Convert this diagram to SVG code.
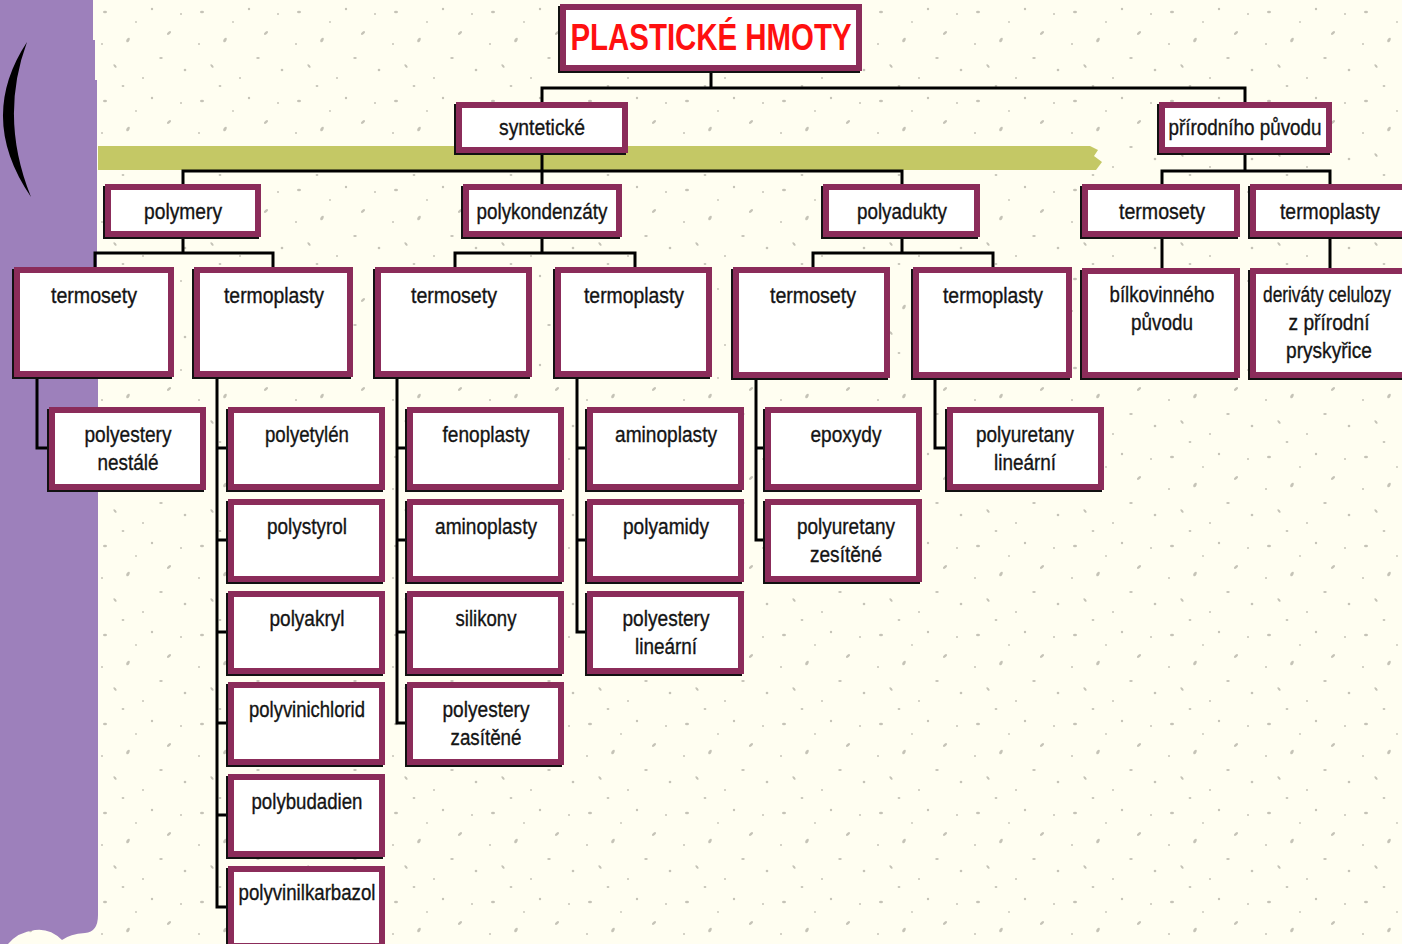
<svg xmlns="http://www.w3.org/2000/svg" width="1402" height="944" viewBox="0 0 1402 944">
<style>
.sh{fill:#111}
.bx{fill:#ffffff;stroke:#8b2c5a;stroke-width:6}
.t{font-family:"Liberation Sans",Arial,sans-serif;font-size:22px;fill:#141414;stroke:#141414;stroke-width:0.35;text-anchor:middle}
.ttl{font-family:"Liberation Sans",Arial,sans-serif;font-size:37px;font-weight:bold;fill:#ff1010;text-anchor:middle}
.cn{fill:none;stroke:#000;stroke-width:3}
</style>
<defs>
<pattern id="speck" width="97" height="89" patternUnits="userSpaceOnUse">
<g fill="#7d7b70" opacity="0.45">
<ellipse cx="8" cy="12" rx="2" ry="1.2"/>
<ellipse cx="31" cy="40" rx="1.5" ry="2.5" transform="rotate(30 31 40)"/>
<ellipse cx="55" cy="9" rx="1.2" ry="1.2"/>
<ellipse cx="72" cy="33" rx="2.5" ry="1.2" transform="rotate(-40 72 33)"/>
<ellipse cx="88" cy="70" rx="1.3" ry="1.3"/>
<ellipse cx="18" cy="66" rx="2.2" ry="1" transform="rotate(50 18 66)"/>
<ellipse cx="46" cy="78" rx="1" ry="1"/>
<ellipse cx="64" cy="58" rx="1.8" ry="1.1"/>
<ellipse cx="39" cy="22" rx="0.9" ry="0.9"/>
<ellipse cx="84" cy="14" rx="1" ry="1"/>
<ellipse cx="5" cy="44" rx="1" ry="1"/>
<ellipse cx="26" cy="86" rx="1.4" ry="0.9"/>
</g>
</pattern>
</defs>
<rect width="1402" height="944" fill="#fffef1"/>
<rect width="1402" height="944" fill="url(#speck)"/>
<path d="M0,0 H93 V40 H95 V80 H97 V300 H98 V915 Q98,932 85,933 Q70,934 62,940 Q50,928 35,930 Q18,932 8,944 H0 Z" fill="#9d80bb"/>
<path d="M27,42 Q-23,118 31,197 Q-1,118 27,42 Z" fill="#000"/>
<path d="M98,146 H1090 L1098,150 L1094,156 L1102,162 L1096,170 H98 Z" fill="#c4c865"/>

<g id="connectors">
<path class="cn" d="M542,102 V88 H1245 V102 M711,71 V88"/>
<path class="cn" d="M542,153 V184 M183,184 V171 H902 V184"/>
<path class="cn" d="M1245,153 V171 M1162,184 V171 H1330 V184"/>
<path class="cn" d="M183,237 V253 M95,267 V253 H273 V267"/>
<path class="cn" d="M542,237 V253 M455,267 V253 H635 V267"/>
<path class="cn" d="M902,237 V253 M813,267 V253 H993 V267"/>
<path class="cn" d="M1162,237 V268 M1330,237 V268"/>
<path class="cn" d="M37,377 V448 H49"/>
<path class="cn" d="M217,377 V907 H228 M217,448 H228 M217,540 H228 M217,632 H228 M217,723 H228 M217,815 H228"/>
<path class="cn" d="M397,377 V723 H407 M397,448 H407 M397,540 H407 M397,632 H407"/>
<path class="cn" d="M577,377 V632 H587 M577,448 H587 M577,540 H587"/>
<path class="cn" d="M756,377 V540 H765 M756,448 H765"/>
<path class="cn" d="M935,377 V448 H947"/>
</g>

<g id="n-title"><rect class="sh" x="558" y="6" width="302" height="67"/><rect class="bx" x="563" y="7" width="296" height="61"/><text class="ttl" x="711" y="50" textLength="281" lengthAdjust="spacingAndGlyphs">PLASTICKÉ HMOTY</text></g>

<g id="n-synteticke"><rect class="sh" x="454" y="104" width="172" height="51"/><rect class="bx" x="459" y="105" width="166" height="45"/><text class="t" x="542" y="135" textLength="86" lengthAdjust="spacingAndGlyphs">syntetické</text></g>
<g id="n-prirodniho"><rect class="sh" x="1157" y="104" width="173" height="51"/><rect class="bx" x="1162" y="105" width="167" height="45"/><text class="t" x="1245" y="135" textLength="153" lengthAdjust="spacingAndGlyphs">přírodního původu</text></g>

<g id="n-polymery"><rect class="sh" x="103" y="186" width="156" height="53"/><rect class="bx" x="108" y="187" width="150" height="47"/><text class="t" x="183" y="219" textLength="78" lengthAdjust="spacingAndGlyphs">polymery</text></g>
<g id="n-polykondenzaty"><rect class="sh" x="461" y="186" width="159" height="53"/><rect class="bx" x="466" y="187" width="153" height="47"/><text class="t" x="542" y="219" textLength="131" lengthAdjust="spacingAndGlyphs">polykondenzáty</text></g>
<g id="n-polyadukty"><rect class="sh" x="821" y="186" width="157" height="53"/><rect class="bx" x="826" y="187" width="151" height="47"/><text class="t" x="902" y="219" textLength="90" lengthAdjust="spacingAndGlyphs">polyadukty</text></g>
<g id="n-p-termosety"><rect class="sh" x="1080" y="186" width="158" height="53"/><rect class="bx" x="1085" y="187" width="152" height="47"/><text class="t" x="1162" y="219" textLength="86" lengthAdjust="spacingAndGlyphs">termosety</text></g>
<g id="n-p-termoplasty"><rect class="sh" x="1248" y="186" width="160" height="53"/><rect class="bx" x="1253" y="187" width="154" height="47"/><text class="t" x="1330" y="219" textLength="100" lengthAdjust="spacingAndGlyphs">termoplasty</text></g>

<g id="n-pm-termosety"><rect class="sh" x="12" y="269" width="160" height="110"/><rect class="bx" x="17" y="270" width="154" height="104"/><text class="t" x="94" y="303" textLength="86" lengthAdjust="spacingAndGlyphs">termosety</text></g>
<g id="n-pm-termoplasty"><rect class="sh" x="192" y="269" width="159" height="110"/><rect class="bx" x="197" y="270" width="153" height="104"/><text class="t" x="274" y="303" textLength="100" lengthAdjust="spacingAndGlyphs">termoplasty</text></g>
<g id="n-pk-termosety"><rect class="sh" x="373" y="269" width="157" height="110"/><rect class="bx" x="378" y="270" width="151" height="104"/><text class="t" x="454" y="303" textLength="86" lengthAdjust="spacingAndGlyphs">termosety</text></g>
<g id="n-pk-termoplasty"><rect class="sh" x="553" y="269" width="157" height="110"/><rect class="bx" x="558" y="270" width="151" height="104"/><text class="t" x="634" y="303" textLength="100" lengthAdjust="spacingAndGlyphs">termoplasty</text></g>
<g id="n-pa-termosety"><rect class="sh" x="731" y="269" width="157" height="111"/><rect class="bx" x="736" y="270" width="151" height="105"/><text class="t" x="813" y="303" textLength="86" lengthAdjust="spacingAndGlyphs">termosety</text></g>
<g id="n-pa-termoplasty"><rect class="sh" x="911" y="269" width="159" height="111"/><rect class="bx" x="916" y="270" width="153" height="105"/><text class="t" x="993" y="303" textLength="100" lengthAdjust="spacingAndGlyphs">termoplasty</text></g>
<g id="n-bilkovinneho"><rect class="sh" x="1080" y="270" width="158" height="110"/><rect class="bx" x="1085" y="271" width="152" height="104"/><text class="t" x="1162" y="302" textLength="105" lengthAdjust="spacingAndGlyphs">bílkovinného</text><text class="t" x="1162" y="330" textLength="62" lengthAdjust="spacingAndGlyphs">původu</text></g>
<g id="n-derivaty"><rect class="sh" x="1248" y="270" width="162" height="110"/><rect class="bx" x="1253" y="271" width="156" height="104"/><text class="t" x="1327" y="302" textLength="128" lengthAdjust="spacingAndGlyphs">deriváty celulozy</text><text class="t" x="1329" y="330" textLength="81" lengthAdjust="spacingAndGlyphs">z přírodní</text><text class="t" x="1329" y="358" textLength="86" lengthAdjust="spacingAndGlyphs">pryskyřice</text></g>

<g id="n-polyestery-nestale"><rect class="sh" x="47" y="409" width="157" height="83"/><rect class="bx" x="52" y="410" width="151" height="77"/><text class="t" x="128" y="442" textLength="87" lengthAdjust="spacingAndGlyphs">polyestery</text><text class="t" x="128" y="470" textLength="61" lengthAdjust="spacingAndGlyphs">nestálé</text></g>

<g id="n-polyetylen"><rect class="sh" x="226" y="409" width="157" height="83"/><rect class="bx" x="231" y="410" width="151" height="77"/><text class="t" x="307" y="442" textLength="84" lengthAdjust="spacingAndGlyphs">polyetylén</text></g>
<g id="n-polystyrol"><rect class="sh" x="226" y="501" width="157" height="83"/><rect class="bx" x="231" y="502" width="151" height="77"/><text class="t" x="307" y="534" textLength="80" lengthAdjust="spacingAndGlyphs">polystyrol</text></g>
<g id="n-polyakryl"><rect class="sh" x="226" y="593" width="157" height="83"/><rect class="bx" x="231" y="594" width="151" height="77"/><text class="t" x="307" y="626" textLength="75" lengthAdjust="spacingAndGlyphs">polyakryl</text></g>
<g id="n-polyvinichlorid"><rect class="sh" x="226" y="684" width="157" height="83"/><rect class="bx" x="231" y="685" width="151" height="77"/><text class="t" x="307" y="717" textLength="116" lengthAdjust="spacingAndGlyphs">polyvinichlorid</text></g>
<g id="n-polybudadien"><rect class="sh" x="226" y="776" width="157" height="83"/><rect class="bx" x="231" y="777" width="151" height="77"/><text class="t" x="307" y="809" textLength="111" lengthAdjust="spacingAndGlyphs">polybudadien</text></g>
<g id="n-polyvinilkarbazol"><rect class="sh" x="226" y="868" width="157" height="83"/><rect class="bx" x="231" y="869" width="151" height="77"/><text class="t" x="307" y="900" textLength="137" lengthAdjust="spacingAndGlyphs">polyvinilkarbazol</text></g>

<g id="n-fenoplasty"><rect class="sh" x="405" y="409" width="157" height="83"/><rect class="bx" x="410" y="410" width="151" height="77"/><text class="t" x="486" y="442" textLength="87" lengthAdjust="spacingAndGlyphs">fenoplasty</text></g>
<g id="n-aminoplasty-1"><rect class="sh" x="405" y="501" width="157" height="83"/><rect class="bx" x="410" y="502" width="151" height="77"/><text class="t" x="486" y="534" textLength="102" lengthAdjust="spacingAndGlyphs">aminoplasty</text></g>
<g id="n-silikony"><rect class="sh" x="405" y="593" width="157" height="83"/><rect class="bx" x="410" y="594" width="151" height="77"/><text class="t" x="486" y="626" textLength="61" lengthAdjust="spacingAndGlyphs">silikony</text></g>
<g id="n-polyestery-zasitene"><rect class="sh" x="405" y="684" width="157" height="83"/><rect class="bx" x="410" y="685" width="151" height="77"/><text class="t" x="486" y="717" textLength="87" lengthAdjust="spacingAndGlyphs">polyestery</text><text class="t" x="486" y="745" textLength="71" lengthAdjust="spacingAndGlyphs">zasítěné</text></g>

<g id="n-aminoplasty-2"><rect class="sh" x="585" y="409" width="157" height="83"/><rect class="bx" x="590" y="410" width="151" height="77"/><text class="t" x="666" y="442" textLength="102" lengthAdjust="spacingAndGlyphs">aminoplasty</text></g>
<g id="n-polyamidy"><rect class="sh" x="585" y="501" width="157" height="83"/><rect class="bx" x="590" y="502" width="151" height="77"/><text class="t" x="666" y="534" textLength="86" lengthAdjust="spacingAndGlyphs">polyamidy</text></g>
<g id="n-polyestery-linearni"><rect class="sh" x="585" y="593" width="157" height="83"/><rect class="bx" x="590" y="594" width="151" height="77"/><text class="t" x="666" y="626" textLength="87" lengthAdjust="spacingAndGlyphs">polyestery</text><text class="t" x="666" y="654" textLength="62" lengthAdjust="spacingAndGlyphs">lineární</text></g>

<g id="n-epoxydy"><rect class="sh" x="763" y="409" width="157" height="83"/><rect class="bx" x="768" y="410" width="151" height="77"/><text class="t" x="846" y="442" textLength="71" lengthAdjust="spacingAndGlyphs">epoxydy</text></g>
<g id="n-polyuretany-zesitene"><rect class="sh" x="763" y="501" width="157" height="83"/><rect class="bx" x="768" y="502" width="151" height="77"/><text class="t" x="846" y="534" textLength="98" lengthAdjust="spacingAndGlyphs">polyuretany</text><text class="t" x="846" y="562" textLength="72" lengthAdjust="spacingAndGlyphs">zesítěné</text></g>

<g id="n-polyuretany-linearni"><rect class="sh" x="945" y="409" width="157" height="83"/><rect class="bx" x="950" y="410" width="151" height="77"/><text class="t" x="1025" y="442" textLength="98" lengthAdjust="spacingAndGlyphs">polyuretany</text><text class="t" x="1025" y="470" textLength="62" lengthAdjust="spacingAndGlyphs">lineární</text></g>
</svg>
